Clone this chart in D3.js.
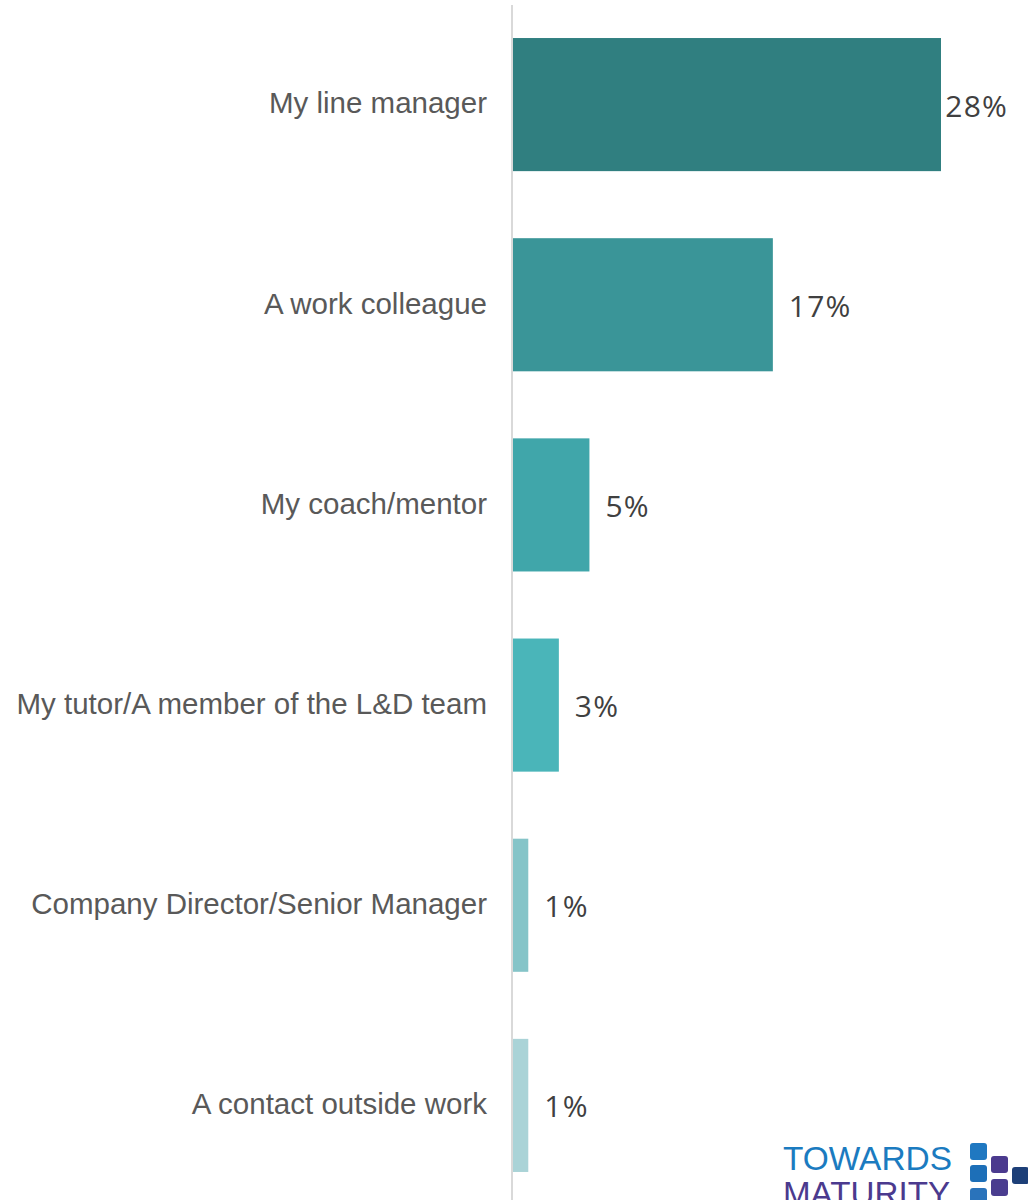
<!DOCTYPE html>
<html>
<head>
<meta charset="utf-8">
<script src="https://cdn.jsdelivr.net/npm/d3@7"></script>
<style>
  html, body { margin: 0; padding: 0; background: #fff; }
  svg { display: block; }
</style>
</head>
<body>
<div id="chart"></div>
<script>
// Who helps you most with your learning?
const categories = [
  "My line manager",
  "A work colleague",
  "My coach/mentor",
  "My tutor/A member of the L&D team",
  "Company Director/Senior Manager",
  "A contact outside work"
];
const values = [28, 17, 5, 3, 1, 1];
const barColors = ["#307f80", "#3a9598", "#40a6aa", "#4ab5b9", "#85c4c8", "#aad3d7"];

const W = 1028, H = 1200;
const axisX = 513;
const plotTop = 5;

const svg = d3.select("#chart").append("svg")
  .attr("width", W).attr("height", H);

const y = d3.scaleBand()
  .domain(categories)
  .range([5, 1205])
  .paddingInner(0.335)
  .paddingOuter(0.165);

const x = d3.scaleLinear()
  .domain([0, 28])
  .range([axisX, 941]);

// bars
svg.selectAll("rect.bar")
  .data(categories)
  .join("rect")
  .attr("class", "bar")
  .attr("x", x(0))
  .attr("y", d => y(d))
  .attr("width", (d, i) => x(values[i]) - x(0))
  .attr("height", y.bandwidth())
  .attr("fill", (d, i) => barColors[i]);

// category axis on the left
const axis = d3.axisLeft(y).tickSize(0).tickPadding(26);
const gAxis = svg.append("g")
  .attr("transform", `translate(${axisX},0)`)
  .call(axis);
gAxis.select(".domain").remove();
gAxis.selectAll("text")
  .attr("font-family", "'Liberation Sans', Arial, sans-serif")
  .attr("font-size", 29.5)
  .attr("fill", "#595959")
  .attr("dy", "0.3em");

// vertical baseline
svg.append("line")
  .attr("x1", axisX - 1).attr("x2", axisX - 1)
  .attr("y1", plotTop).attr("y2", H)
  .attr("stroke", "#d9d9d9").attr("stroke-width", 2);

// value labels, kept inside the frame
const labels = svg.selectAll("text.val")
  .data(categories)
  .join("text")
  .attr("class", "val")
  .attr("y", d => y(d) + y.bandwidth() / 2)
  .attr("dy", "0.4em")
  .attr("font-family", "'Open Sans', sans-serif")
  .attr("font-size", 30)
  .attr("letter-spacing", 1.2)
  .attr("fill", "#404040")
  .text((d, i) => values[i] + "%");
labels.each(function (d, i) {
  const w = this.getComputedTextLength();
  const xPos = Math.min(x(values[i]) + 16, 1008 - w);
  d3.select(this).attr("x", xPos);
});

// logo
const logo = svg.append("g");
logo.append("text")
  .attr("x", 783).attr("y", 1170)
  .attr("font-family", "'Liberation Sans', Arial, sans-serif")
  .attr("font-size", 34)
  .attr("fill", "#1b7bc0")
  .attr("textLength", 169)
  .attr("lengthAdjust", "spacingAndGlyphs")
  .text("TOWARDS");
logo.append("text")
  .attr("x", 783).attr("y", 1205)
  .attr("font-family", "'Liberation Sans', Arial, sans-serif")
  .attr("font-size", 34)
  .attr("fill", "#4b3a8e")
  .attr("textLength", 167)
  .attr("lengthAdjust", "spacingAndGlyphs")
  .text("MATURITY");

const squares = [
  { x: 970, y: 1143, c: "#1f78c1" },
  { x: 970, y: 1165, c: "#1d6fb8" },
  { x: 970, y: 1188, c: "#2a73bb" },
  { x: 991, y: 1156, c: "#4b3a8e" },
  { x: 991, y: 1179, c: "#4a3d8f" },
  { x: 1012, y: 1167, c: "#1d3f78" }
];
logo.selectAll("rect")
  .data(squares)
  .join("rect")
  .attr("x", d => d.x).attr("y", d => d.y)
  .attr("width", 17).attr("height", 17)
  .attr("rx", 3)
  .attr("fill", d => d.c);
</script>
</body>
</html>
